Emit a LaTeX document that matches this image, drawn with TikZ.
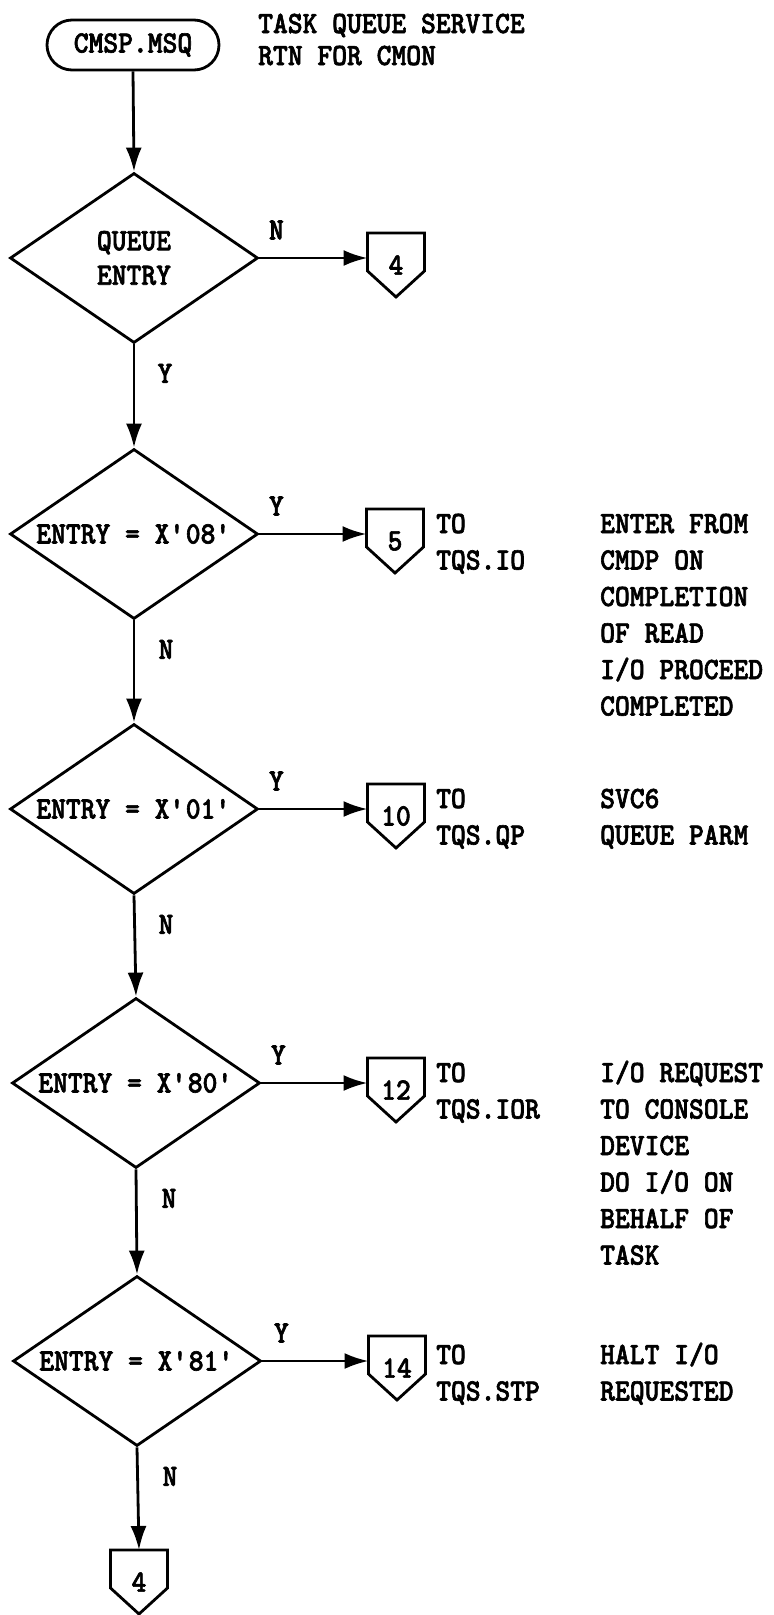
\documentclass[tikz,border=0pt]{standalone}
\usepackage{fontspec}
\usetikzlibrary{shapes.geometric,arrows.meta,calc}
\newfontfamily\plotfont[FakeStretch=0.91,FakeBold=2]{lmmonolt10-bold.otf}
\newcommand\apos{\textquotesingle}
\newcommand\offpagepath[1]{\draw[line width=2.8pt, line join=miter] (#1.north west) -- (#1.north east) -- ([yshift=-38pt]#1.north east) -- (#1.south) -- ([yshift=-38pt]#1.north west) -- cycle;}
\begin{document}
\begin{tikzpicture}[x=1pt,y=-1pt,
  every node/.style={font=\plotfont\fontsize{31}{36.5}\selectfont},
  flow/.style={line width=2.8pt,-{Latex[length=24pt,width=16pt]}},
  term/.style={draw,line width=2.8pt,rectangle,rounded corners=25pt,minimum width=172pt,minimum height=50pt,inner sep=0pt},
  decision/.style={draw,line width=2.8pt,diamond,aspect=1.46,minimum width=248pt,minimum height=170pt,inner sep=0pt,align=center},
  offpage/.style={minimum width=57pt,minimum height=64pt,inner sep=0pt,outer sep=0pt},
  lbl/.style={inner sep=0pt},
  note/.style={inner sep=0pt,anchor=base west,align=left},
]
\fill[white] (0,0) rectangle (774,1615);
\useasboundingbox (0,0) rectangle (774,1615);

\node[term] (start) at (133,45) {CMSP.MSQ};
\node[note, font=\plotfont\fontsize{31}{32}\selectfont] (title) at (258,65) {TASK QUEUE SERVICE\\RTN FOR CMON};

\node[decision] (d1) at (134,258) {QUEUE\\[-2pt]ENTRY};
\node[decision] (d2) at (134,534) {ENTRY = X\apos 08\apos};
\node[decision] (d3) at (134,809) {ENTRY = X\apos 01\apos};
\node[decision] (d4) at (136,1083) {ENTRY = X\apos 80\apos};
\node[decision] (d5) at (137,1361) {ENTRY = X\apos 81\apos};

\node[offpage] (c1) at (396,265) {4};
\node[offpage] (c2) at (395,541) {5};
\node[offpage] (c3) at (396,816) {10};
\node[offpage] (c4) at (396,1090) {12};
\node[offpage] (c5) at (397,1368) {14};
\node[offpage] (c6) at (139,1582) {4};
\foreach \c in {c1,c2,c3,c4,c5,c6} {\offpagepath{\c}}

\draw[flow] (start.south) -- (d1.north);
\draw[flow] (d1.east) -- (d1.east -| c1.west);
\draw[flow] (d1.south) -- (d2.north);
\draw[flow] (d2.east) -- (d2.east -| c2.west);
\draw[flow] (d2.south) -- (d3.north);
\draw[flow] (d3.east) -- (d3.east -| c3.west);
\draw[flow] (d3.south) -- (d4.north);
\draw[flow] (d4.east) -- (d4.east -| c4.west);
\draw[flow] (d4.south) -- (d5.north);
\draw[flow] (d5.east) -- (d5.east -| c5.west);
\draw[flow] (d5.south) -- (c6.north);

\node[lbl] (l1a) at ($(d1.east)+(17,-28)$) {N};
\node[lbl] (l1b) at ($(d1.south)+(31,29)$) {Y};
\node[lbl] (l2a) at ($(d2.east)+(17,-28)$) {Y};
\node[lbl] (l2b) at ($(d2.south)+(32,29)$) {N};
\node[lbl] (l3a) at ($(d3.east)+(17,-28)$) {Y};
\node[lbl] (l3b) at ($(d3.south)+(32,29)$) {N};
\node[lbl] (l4a) at ($(d4.east)+(17,-28)$) {Y};
\node[lbl] (l4b) at ($(d4.south)+(33,29)$) {N};
\node[lbl] (l5a) at ($(d5.east)+(19,-28)$) {Y};
\node[lbl] (l5b) at ($(d5.south)+(33,29)$) {N};

\node[note] (t2) at (436,569.5) {TO\\TQS.IO};
\node[note] (n2) at (600,715.5) {ENTER FROM\\CMDP ON\\COMPLETION\\OF READ\\I/O PROCEED\\COMPLETED};
\node[note] (t3) at (436,844.5) {TO\\TQS.QP};
\node[note] (n3) at (600,844.5) {SVC6\\QUEUE PARM};
\node[note] (t4) at (436,1118.5) {TO\\TQS.IOR};
\node[note] (n4) at (600,1264.5) {I/O REQUEST\\TO CONSOLE\\DEVICE\\DO I/O ON\\BEHALF OF\\TASK};
\node[note] (t5) at (436,1400.5) {TO\\TQS.STP};
\node[note] (n5) at (600,1400.5) {HALT I/O\\REQUESTED};
\end{tikzpicture}
\end{document}
